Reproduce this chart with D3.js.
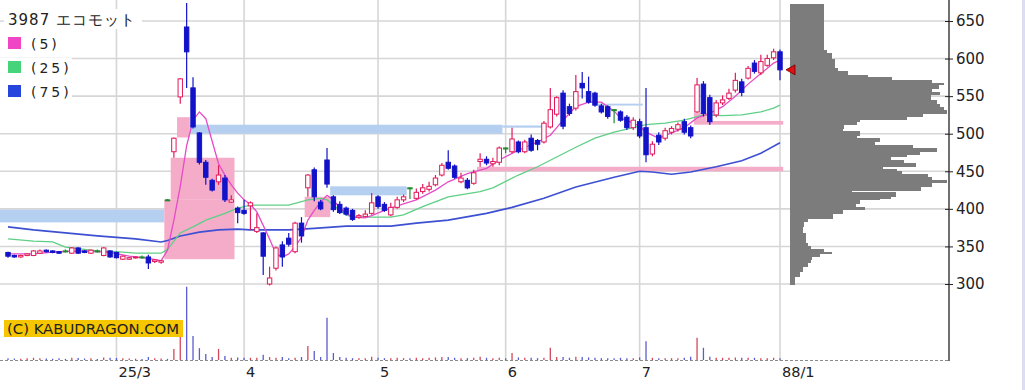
<!DOCTYPE html>
<html>
<head>
<meta charset="utf-8">
<script src="https://cdn.jsdelivr.net/npm/d3@7"></script>
<style>
  body { margin: 0; background: #fff; }
  svg { display: block; }
  text { font-family: "DejaVu Sans", sans-serif; fill: #222; }
</style>
</head>
<body>
<svg width="1025" height="390"></svg>
<script>
// daily candles, index 0 = first day shown (early feb) .. 121 = last day (end of jul)
var opens = [342,338,336,338,338,341,345,344,343,344,341,348,344,341,344,338,344,342,333,333,
  335,336,336,330,329,412,476,549,642,561,501,462,438,436,441,409,401,398,404,370,
  368,300,321,352,361,343,381,428,452,409,465,416,406,401,398,389,390,394,416,406,
  392,402,412,428,414,423,426,432,445,462,457,436,438,434,463,466,460,462,481,476,
  489,476,494,491,489,509,526,554,536,534,567,556,554,537,536,532,529,522,508,516,
  508,473,498,494,502,506,516,508,529,566,548,525,541,547,558,569,574,594,581,591,
  601,609];
var highs = [343,339,339,341,345,346,346,345,344,346,349,349,345,346,346,349,345,343,338,336,
  337,338,339,333,332,413,495,574,674,575,502,465,440,458,445,418,403,412,410,394,
  369,323,350,357,368,383,389,446,455,412,481,418,410,403,400,393,398,421,418,409,
  408,416,419,428,427,433,436,445,461,478,459,448,441,452,474,470,468,483,482,508,
  491,492,499,493,517,561,550,558,540,578,582,576,556,540,538,533,531,525,522,520,
  561,490,502,508,510,515,520,511,574,570,552,545,551,560,581,573,590,598,605,605,
  613,612];
var lows = [335,335,335,337,337,340,342,341,340,342,340,340,341,340,342,337,335,334,332,332,
  334,334,320,328,327,411,468,540,561,507,459,432,423,432,409,408,381,392,372,368,
  312,298,318,323,350,341,355,416,410,398,428,396,393,391,384,387,389,392,400,396,
  390,400,409,413,412,420,423,430,443,452,440,434,426,432,456,458,456,458,474,474,
  474,474,476,478,487,507,523,506,524,531,547,540,536,527,520,514,516,505,505,494,
  462,470,485,491,499,503,499,494,528,523,512,522,538,545,555,550,572,580,578,589,
  598,571];
var closes = [337,336,338,340,344,344,343,342,341,344,348,341,342,345,344,348,336,335,337,335,
  336,336,328,332,331,412,494,573,609,509,462,442,425,445,412,412,395,394,408,375,
  337,308,348,336,353,381,364,445,416,400,433,399,395,393,386,391,393,408,403,398,
  402,412,416,428,422,428,430,441,458,454,442,441,428,448,466,461,463,481,481,493,
  476,489,478,486,514,532,548,510,527,556,561,542,538,529,523,532,518,508,518,497,
  472,486,489,504,507,512,502,497,565,527,516,541,545,554,571,555,587,583,596,600,
  609,585];
var volumes = [25,20,18,22,30,25,20,18,22,15,30,28,20,22,15,35,30,28,25,20,18,15,40,22,20,
  15,150,310,990,325,160,80,40,150,55,30,35,30,30,30,70,40,30,40,25,30,40,190,120,40,
  570,95,40,30,25,25,25,45,30,25,25,30,25,25,30,25,30,35,40,40,30,25,25,30,45,
  30,25,30,25,95,35,30,30,25,30,165,40,40,30,45,40,35,30,25,25,25,30,25,25,35,
  255,30,25,25,25,25,30,45,300,165,45,30,30,30,35,30,30,30,25,25,30,25];

// moving averages, [day index, price]
var ma5 = [[0,340],[4,340],[8,343],[12,344],[16,342],[19,337],[22,334],[24,331],[25,345],[26,385],
  [27,430],[28,484],[29,518],[30,529],[31,520],[32,490],[33,460],[34,445],[35,432],[36,421],
  [37,412],[38,406],[39,396],[40,378],[41,360],[42,340],[43,336],[44,340],[45,350],[46,362],
  [47,385],[48,398],[49,409],[50,418],[51,412],[52,401],[53,394],[54,389],[56,388],[57,391],
  [59,398],[61,404],[64,412],[67,425],[69,436],[72,447],[75,454],[77,465],[80,478],[83,489],
  [85,498],[87,518],[89,536],[91,542],[93,542],[95,530],[96,521],[98,514],[99,510],[100,502],
  [102,494],[104,501],[106,508],[108,521],[110,527],[112,536],[114,550],[116,566],[118,580],
  [120,594],[121,598]];
var ma25 = [[0,360],[4,357],[7,356],[9,349],[14,344],[17,343],[20,341],[24,341],[25,346],[27,368],
  [29,376],[31,385],[34,394],[36,401],[38,405],[44,405],[47,412],[49,414],[50,412],[51,405],
  [52,398],[53,392],[54,389],[60,389],[62,392],[65,403],[69,416],[74,423],[76,428],[80,445],
  [83,456],[86,469],[89,482],[92,494],[95,502],[99,510],[100,512],[103,514],[106,518],[109,525],
  [112,524],[115,525],[118,529],[120,534],[121,538]];
var ma75 = [[0,376],[4,372],[9,368],[14,364],[20,360],[24,356],[25,358],[27,364],[30,369],[33,372],
  [36,373],[38,372],[44,372],[48,374],[53,377],[60,377],[64,381],[69,385],[75,394],[77,398],
  [79,402],[84,414],[89,429],[95,442],[99,450],[101,449],[104,446],[107,449],[111,456],[115,464],
  [118,474],[121,488]];

// open price gaps: [first day, last day, low, high]
var upGaps = [[25,35,333,412],[26,35,412,468],[27,28,495,522],[47,50,389,416],
  [74,121,450,456],[108,121,512,517],[108,109,517,528]];
var downGaps = [[-1,24,382,399],[29,77,500,512],[78,84,508,511],[51,62,418,430],[93,99,537.5,540]];

// price-by-volume: bin edges (yen, high to low) and relative volume per bin
var profEdges = [673,611,607,600,587,583,578,575,572,568,565,560,556,552,545,540,536,532,527,523,
  519,516,512,507,503,498,494,489,485,481,476,473,470,465,461,456,453,450,446,443,
  438,435,430,425,422,417,414,412,407,403,399,394,387,383,376,368,354,350,346,343,
  340,336,332,328,323,316,310,299];
var profVol = [21,23,26,28,30,36,49,64,89,96,93,89,94,88,92,94,96,98,83,73,
  44,42,34,33,44,42,56,53,77,92,81,73,63,71,79,58,67,70,86,89,
  98,89,82,39,66,63,56,44,41,47,33,27,11,9,8,10,11,13,21,26,
  19,14,13,11,8,6,3];

var monthLabels = ["25/3", "4", "5", "6", "7", "88/1"];
var monthLineIdx = [17, 37, 58, 78, 99, 121];
var priceTicks = [300, 350, 400, 450, 500, 550, 600, 650];
var legendNames = ["(5)", "(25)", "(75)"];

var svg = d3.select("svg");
var axisX = 949;
var upColor = "#e2195a", downColor = "#1212c8", dojiColor = "#1f8a2e";

var x = d3.scaleLinear().domain([0, 121]).range([8, 780]);
var y = d3.scaleLinear().domain([300, 650]).range([284, 21]);
var yv = d3.scaleLinear().domain([0, 1000]).range([360, 286]);
var xp = d3.scaleLinear().domain([0, 100]).range([790, 950]);
var half = (x(1) - x(0)) / 2;

svg.append("rect").attr("width", 1025).attr("height", 390).attr("fill", "#fff");

//grid
var grid = svg.append("g").attr("stroke", "#d6d6d6").attr("stroke-width", 1.6);
grid.selectAll("line.h").data(priceTicks).enter().append("line")
    .attr("x1", 0).attr("x2", axisX)
    .attr("y1", function(d) { return y(d); }).attr("y2", function(d) { return y(d); });
grid.selectAll("line.v").data(monthLineIdx).enter().append("line")
    .attr("x1", function(d) { return x(d); }).attr("x2", function(d) { return x(d); })
    .attr("y1", 0).attr("y2", 361);

//gap zones
function drawZones(data, colour) {
  svg.append("g").selectAll("rect").data(data).enter().append("rect")
      .attr("x", function(d) { return x(d[0]) - half; })
      .attr("width", function(d) { return x(d[1]) - x(d[0]) + 2 * half; })
      .attr("y", function(d) { return y(d[3]); })
      .attr("height", function(d) { return y(d[2]) - y(d[3]); })
      .attr("fill", colour);
}
drawZones(downGaps, "#b5cff1");
drawZones(upGaps, "#f5acc9");

//price by volume
svg.append("g").attr("shape-rendering", "crispEdges")
  .selectAll("rect").data(profVol).enter().append("rect")
    .attr("x", xp(0))
    .attr("width", function(d) { return xp(d) - xp(0); })
    .attr("y", function(d, i) { return y(profEdges[i]); })
    .attr("height", function(d, i) { return y(profEdges[i + 1]) - y(profEdges[i]) + 0.5; })
    .attr("fill", "#7c7c7c");

//volume
function dir(i) { return closes[i] > opens[i] ? 1 : (closes[i] < opens[i] ? -1 : 0); }
svg.append("line").attr("x1", 0).attr("x2", axisX).attr("y1", 360.5).attr("y2", 360.5)
    .attr("stroke", "#8a8a8a").attr("stroke-dasharray", "3,2");
svg.append("g").selectAll("line").data(volumes).enter().append("line")
    .attr("x1", function(d, i) { return x(i); }).attr("x2", function(d, i) { return x(i); })
    .attr("y1", yv(0)).attr("y2", function(d) { return yv(d); })
    .attr("stroke-width", 1.3)
    .attr("stroke", function(d, i) { return dir(i) > 0 ? "#d4485a" : "#5a5ccf"; });

//moving averages
var line = d3.line().x(function(d) { return x(d[0]); }).y(function(d) { return y(d[1]); });
[[ma75, "#3e50d2", 1.6], [ma25, "#5fcf86", 1.3], [ma5, "#e64cc6", 1.3]].forEach(function(m) {
  svg.append("path").datum(m[0]).attr("d", line)
      .attr("fill", "none").attr("stroke", m[1]).attr("stroke-width", m[2]);
});

//candles
var days = d3.range(opens.length);
var candle = svg.append("g").selectAll("g").data(days).enter().append("g");
candle.append("line")
    .attr("x1", function(i) { return x(i); }).attr("x2", function(i) { return x(i); })
    .attr("y1", function(i) { return y(highs[i]); }).attr("y2", function(i) { return y(lows[i]); })
    .attr("stroke-width", 1.2)
    .attr("stroke", function(i) { return [dojiColor, downColor, upColor][dir(i) + 1 === 0 ? 1 : (dir(i) === 0 ? 0 : 2)]; });
candle.append("rect")
    .attr("x", function(i) { return x(i) - 2.2; })
    .attr("width", 4.4)
    .attr("y", function(i) { return y(Math.max(opens[i], closes[i])); })
    .attr("height", function(i) { return Math.max(1, y(Math.min(opens[i], closes[i])) - y(Math.max(opens[i], closes[i]))); })
    .attr("fill", function(i) { return dir(i) > 0 ? "#fff" : (dir(i) < 0 ? downColor : dojiColor); })
    .attr("stroke", function(i) { return dir(i) > 0 ? upColor : (dir(i) < 0 ? downColor : dojiColor); })
    .attr("stroke-width", 1);

//last price marker
var last = closes.length - 1;
svg.append("path")
    .attr("d", "M" + (x(last) + 6) + "," + y(closes[last]) +
               "L" + (x(last) + 15) + "," + (y(closes[last]) - 5) +
               "L" + (x(last) + 15) + "," + (y(closes[last]) + 5) + "Z")
    .attr("fill", "#e01010").attr("stroke", "#6a0000").attr("stroke-width", 0.8);

//price axis
svg.append("line").attr("x1", axisX).attr("x2", axisX).attr("y1", 0).attr("y2", 361)
    .attr("stroke", "#222").attr("stroke-width", 1.3);
var yAxis = svg.append("g").attr("transform", "translate(" + axisX + ",0)")
    .call(d3.axisRight(y).tickValues(priceTicks).tickSize(4).tickPadding(3));
yAxis.select(".domain").remove();
yAxis.selectAll("line").attr("x1", -4).attr("stroke", "#222");
yAxis.selectAll("text").attr("font-family", "DejaVu Sans").attr("font-size", 15).attr("fill", "#222");

//month labels
svg.append("g").selectAll("text").data(monthLineIdx).enter().append("text")
    .attr("x", function(d) { return x(d) + 2; }).attr("y", 377)
    .attr("font-size", 14.5)
    .text(function(d, i) { return monthLabels[i]; });

//legend
svg.append("rect").attr("x", 4).attr("y", 9).attr("width", 138).attr("height", 20).attr("fill", "#fff");
svg.append("text").attr("x", 8).attr("y", 25)
    .attr("font-family", "Noto Sans CJK JP").attr("font-size", 15).attr("letter-spacing", 1)
    .text("3987 エコモット");
var legendColours = ["#f046c6", "#45d47a", "#2545dc"];
var leg = svg.append("g").selectAll("g").data(legendNames).enter().append("g")
    .attr("transform", function(d, i) { return "translate(0," + (37 + i * 24) + ")"; });
leg.append("rect").attr("x", 0).attr("y", -3).attr("width", 72).attr("height", 19).attr("fill", "#fff");
leg.append("rect").attr("x", 8).attr("y", 0).attr("width", 13).attr("height", 12)
    .attr("fill", function(d, i) { return legendColours[i]; });
leg.append("text").attr("x", 31).attr("y", 11.5).attr("font-size", 14).attr("letter-spacing", 3)
    .text(function(d) { return d; });

//copyright tag
svg.append("rect").attr("x", 4).attr("y", 320).attr("width", 179).attr("height", 17).attr("fill", "#f6c600");
svg.append("text").attr("x", 7).attr("y", 333.5)
    .attr("font-family", "DejaVu Sans Mono").attr("font-size", 14)
    .attr("textLength", 172).attr("lengthAdjust", "spacingAndGlyphs").attr("fill", "#111")
    .text("(C) KABUDRAGON.COM");

svg.append("rect").attr("x", 1022).attr("y", 0).attr("width", 3).attr("height", 390).attr("fill", "#dcdcf4");
</script>
</body>
</html>
